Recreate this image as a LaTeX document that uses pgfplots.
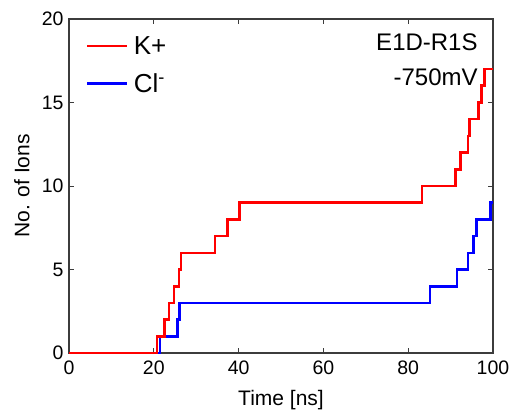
\documentclass[border=0pt]{standalone}
\usepackage{fontspec}
\setmainfont{Liberation Sans}
\usepackage{pgfplots}
\pgfplotsset{compat=1.18}

\definecolor{frame}{RGB}{60,60,60}

\begin{document}
\begin{tikzpicture}
\useasboundingbox (-69bp,-61bp) rectangle (448bp,353bp);
\begin{axis}[
  scale only axis,
  width=424bp, height=334bp,
  xmin=0, xmax=100, ymin=0, ymax=20,
  xtick={0,20,...,100}, ytick={0,5,...,20},
  tick align=inside,
  major tick length=5bp,
  axis line style={frame, line width=1.3bp},
  tick style={frame, line width=0.9bp},
  /pgf/number format/assume math mode=true,
  ticklabel style={font=\fontsize{19.5bp}{21bp}\selectfont},
  xticklabel style={yshift=-4bp},
  yticklabel style={xshift=-2bp},
  xlabel={Time [ns]},
  ylabel={No. of Ions},
  label style={font=\fontsize{21bp}{24bp}\selectfont},
  xlabel style={at={(axis description cs:0.5,-0.141)}, anchor=center},
  ylabel style={at={(axis description cs:-0.111,0.5)}, anchor=center},
  legend style={at={(axis description cs:0.04,0.955)}, anchor=north west,
    draw=none, fill=none, font=\fontsize{26bp}{30bp}\selectfont,
    row sep=14bp, inner sep=0pt, nodes={inner xsep=5bp}},
  legend cell align=left,
  legend image code/.code={\draw[#1, line width=2.6bp] (0bp,0bp) -- (40bp,0bp);},
]
\addplot[const plot, blue, line width=2.6bp, forget plot] coordinates {
  (0,0) (21.5,1) (25.6,2) (26.0,3) (85.1,4) (91.5,5) (94.1,6)
  (95.4,7) (96.1,8) (99.4,9) (100,9)
};
\addplot[const plot, red, line width=2.6bp] coordinates {
  (0,0) (20.75,1) (22.5,2) (23.6,3) (24.8,4) (25.9,5) (26.4,6)
  (34.4,7) (37.4,8) (40.2,9) (83.3,10) (91.1,11) (92.4,12)
  (94.1,13) (94.4,14) (96.6,15) (97.3,16) (98.0,17) (100,17)
};
\addlegendentry{K+}
\addlegendimage{blue}
\addlegendentry{Cl\textsuperscript{-}}
\node[anchor=east, font=\fontsize{24bp}{28bp}\selectfont] at (rel axis cs:0.972,0.931) {E1D-R1S};
\node[anchor=east, font=\fontsize{24bp}{28bp}\selectfont] at (rel axis cs:0.972,0.826) {-750mV};
\end{axis}
\end{tikzpicture}
\end{document}
